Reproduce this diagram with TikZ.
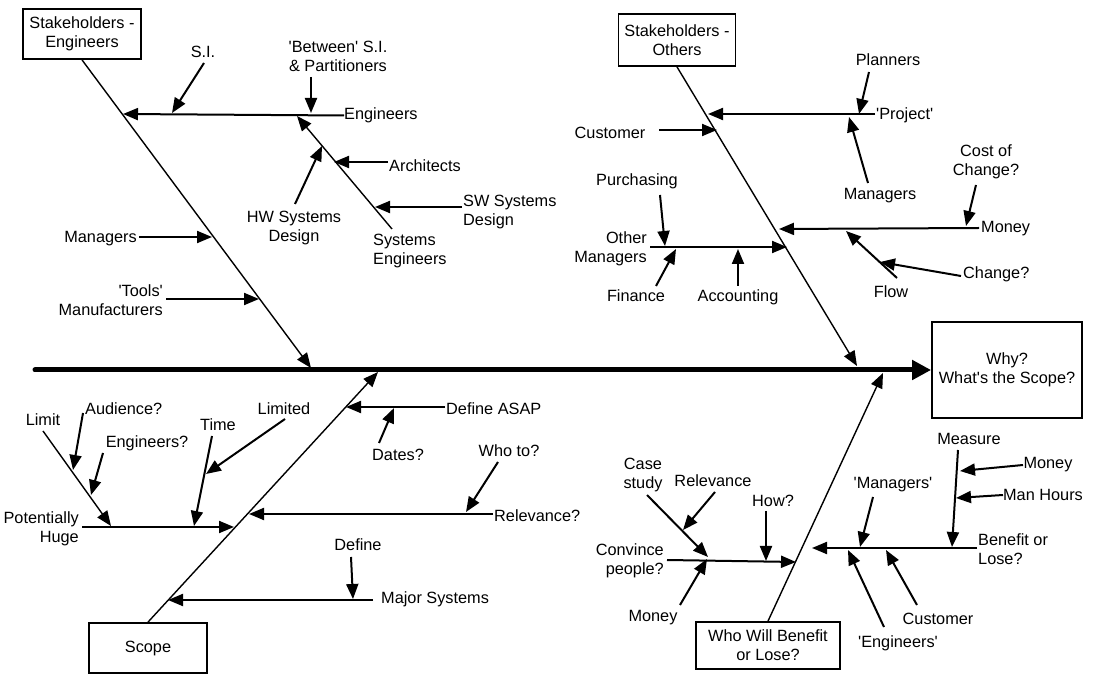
\documentclass[tikz,border=0pt]{standalone}
\usepackage{fontspec}
\setmainfont{Liberation Sans}
\usetikzlibrary{arrows.meta}
\newcommand{\sq}{\textquotesingle}
\begin{document}
\begin{tikzpicture}[x=1pt,y=-1pt,
  lbl/.style={font=\fontsize{16.3}{19}\selectfont, inner sep=0pt, align=center, yshift=-1.5pt},
  lbll/.style={lbl, align=left},
  lblr/.style={lbl, align=right},
  box/.style={draw, line width=1.8pt, font=\fontsize{16.3}{19}\selectfont, align=center, inner sep=0pt},
  bone/.style={line width=1.4pt, -{Triangle[length=15pt,width=12pt]}},
  arr/.style={line width=2pt, -{Triangle[length=15pt,width=12pt]}},
  spine/.style={line width=5pt, line cap=round, -{Triangle[length=19pt,width=19pt]}}]
\useasboundingbox[fill=white] (0,0) rectangle (1096,684);

% boxes
\node[box, minimum width=118pt, minimum height=50pt] (se) at (82,34) {Stakeholders -\\Engineers};
\node[box, minimum width=117pt, minimum height=52pt] (so) at (677,40) {Stakeholders -\\Others};
\node[box, minimum width=150pt, minimum height=96pt] (why) at (1007,370) {Why?\\What\sq s the Scope?};
\node[box, minimum width=118pt, minimum height=50pt] (scope) at (148,648) {Scope};
\node[box, minimum width=144pt, minimum height=47pt] (who) at (768,645.5) {Who Will Benefit\\or Lose?};

% spine
\coordinate (tail) at (35,370);
\draw[spine] (tail) -- (why.west);

% main bones
\coordinate (seE) at (311,368);
\coordinate (soE) at (857,366);
\coordinate (scE) at (378,372);
\coordinate (whE) at (883,373);
\draw[bone] (se.south) -- (seE);
\draw[bone] (so.south) -- (soE);
\draw[bone] (scope.north) -- (scE);
\draw[bone] (who.north) -- (whE);

% ---------- top-left ----------
\node[lbl] (si) at (203,50) {S.I.};
\node[lbl] (betw) at (338,55) {\sq Between\sq{} S.I.\\\& Partitioners};
\node[lbl, anchor=west] (eng) at (344,114) {Engineers};
\node[lbl, anchor=west] (arch) at (389,164) {Architects};
\node[lbll, anchor=west] (sw) at (463,210.5) {SW Systems\\Design};
\node[lbl] (hw) at (294,226.5) {HW Systems\\Design};
\node[lbll, anchor=west] (syseng) at (373,249.5) {Systems\\Engineers};
\node[lbl, anchor=east] (mgr) at (137,237) {Managers};
\node[lblr, anchor=east] (tools) at (163,299) {\sq Tools\sq\\Manufacturers};

\coordinate (engE) at (123,114);
\coordinate (siS) at (204,63);  \coordinate (siE) at (172,113);
\coordinate (bwS) at (311,77);  \coordinate (bwE) at (311,113);
\coordinate (syS) at (392,229); \coordinate (syE) at (297,116);
\coordinate (arS) at (388,162); \coordinate (arE) at (334,162);
\coordinate (swS) at (462,207); \coordinate (swE) at (375,207);
\coordinate (hwS) at (295,204); \coordinate (hwE) at (322,146);
\coordinate (mgS) at (139,237); \coordinate (mgE) at (212,237);
\coordinate (toS) at (166,299); \coordinate (toE) at (259,299);
\draw[arr] (eng.west) -- (engE);
\draw[arr] (siS) -- (siE);
\draw[arr] (bwS) -- (bwE);
\draw[bone] (syS) -- (syE);
\draw[arr] (arS) -- (arE);
\draw[arr] (swS) -- (swE);
\draw[arr] (hwS) -- (hwE);
\draw[arr] (mgS) -- (mgE);
\draw[arr] (toS) -- (toE);

% ---------- top-right ----------
\node[lbl] (cust) at (610,131) {Customer};
\node[lbl, anchor=west] (proj) at (876,114) {\sq Project\sq};
\node[lbl] (plan) at (888,58) {Planners};
\node[lbl] (mgr2) at (880,194) {Managers};
\node[lbl] (cost) at (986,160.5) {Cost of\\Change?};
\node[lbl, anchor=west] (money1) at (981,227) {Money};
\node[lbl] (flow) at (891,290) {Flow};
\node[lbl, anchor=west] (change) at (963,273) {Change?};
\node[lblr, anchor=east] (othm) at (647,247.5) {Other\\Managers};
\node[lbl] (purch) at (637,180) {Purchasing};
\node[lbl] (fin) at (636,294) {Finance};
\node[lbl] (acct) at (738,296) {Accounting};

\coordinate (cuS) at (659,130); \coordinate (cuE) at (717,130);
\coordinate (prS) at (875,114); \coordinate (prE) at (708,114);
\coordinate (plS) at (869,72);  \coordinate (plE) at (859,114);
\coordinate (m2S) at (868,183); \coordinate (m2E) at (849,117);
\coordinate (coS) at (976,185); \coordinate (coE) at (966,226);
\coordinate (moS) at (979,228); \coordinate (moE) at (779,229);
\coordinate (flS) at (897,278); \coordinate (flE) at (846,231);
\coordinate (chS) at (961,276); \coordinate (chE) at (880,262);
\coordinate (omS) at (650,247); \coordinate (omE) at (787,247);
\coordinate (puS) at (660,195); \coordinate (puE) at (665,246);
\coordinate (fiS) at (656,286); \coordinate (fiE) at (676,249);
\coordinate (acS) at (738,286); \coordinate (acE) at (738,249);
\draw[arr] (cuS) -- (cuE);
\draw[arr] (prS) -- (prE);
\draw[arr] (plS) -- (plE);
\draw[arr] (m2S) -- (m2E);
\draw[arr] (coS) -- (coE);
\draw[arr] (moS) -- (moE);
\draw[arr] (flS) -- (flE);
\draw[arr] (chS) -- (chE);
\draw[arr] (omS) -- (omE);
\draw[arr] (puS) -- (puE);
\draw[arr] (fiS) -- (fiE);
\draw[arr] (acS) -- (acE);

% ---------- bottom-left ----------
\node[lbl, anchor=west] (dasap) at (446,407) {Define ASAP};
\node[lbl] (dates) at (398,453) {Dates?};
\node[lbl, anchor=west] (relq) at (494,514) {Relevance?};
\node[lbl] (whoto) at (509,449) {Who to?};
\node[lblr, anchor=east] (pot) at (79,527.5) {Potentially\\Huge};
\node[lbl] (limit) at (43,418) {Limit};
\node[lbl, anchor=west] (aud) at (85,407) {Audience?};
\node[lbl] (engq) at (147,442) {Engineers?};
\node[lbl] (time) at (218,423) {Time};
\node[lbl] (limd) at (284,407) {Limited};
\node[lbl] (define) at (358,543) {Define};
\node[lbl, anchor=west] (majs) at (381,598) {Major Systems};

\coordinate (daS) at (445,407); \coordinate (daE) at (346,407);
\coordinate (dtS) at (379,443); \coordinate (dtE) at (394,408);
\coordinate (rqS) at (493,514); \coordinate (rqE) at (249,514);
\coordinate (wtS) at (498,462); \coordinate (wtE) at (466,512);
\coordinate (poS) at (82,527);  \coordinate (poE) at (234,527);
\coordinate (liS) at (43,431);  \coordinate (liE) at (111,526);
\coordinate (auS) at (83,413);  \coordinate (auE) at (73,470);
\coordinate (eqS) at (103,453); \coordinate (eqE) at (91,495);
\coordinate (tiS) at (212,436); \coordinate (tiE) at (194,526);
\coordinate (ldS) at (285,419); \coordinate (ldE) at (206,474);
\coordinate (deS) at (351,557); \coordinate (deE) at (353,599);
\coordinate (msS) at (373,600); \coordinate (msE) at (168,600);
\draw[arr] (daS) -- (daE);
\draw[arr] (dtS) -- (dtE);
\draw[arr] (rqS) -- (rqE);
\draw[arr] (wtS) -- (wtE);
\draw[arr] (poS) -- (poE);
\draw[bone] (liS) -- (liE);
\draw[arr] (auS) -- (auE);
\draw[arr] (eqS) -- (eqE);
\draw[arr] (tiS) -- (tiE);
\draw[arr] (ldS) -- (ldE);
\draw[arr] (deS) -- (deE);
\draw[arr] (msS) -- (msE);

% ---------- bottom-right ----------
\node[lbll, anchor=west] (ben) at (978,547.5) {Benefit or\\Lose?};
\node[lbl] (meas) at (969,437) {Measure};
\node[lbl] (money2) at (1048,463) {Money};
\node[lbl] (manh) at (1043,493) {Man Hours};
\node[lbl] (mgrq) at (893,483) {\sq Managers\sq};
\node[lbl] (engq2) at (898,642) {\sq Engineers\sq};
\node[lbl] (cust2) at (938,617) {Customer};
\node[lblr, anchor=east] (conv) at (664,559.5) {Convince\\people?};
\node[lbl] (case) at (643,474) {Case\\study};
\node[lbl] (relv) at (713,479) {Relevance};
\node[lbl] (how) at (773,499) {How?};
\node[lbl] (money3) at (653,616) {Money};

\coordinate (beS) at (977,548); \coordinate (beE) at (812,548);
\coordinate (meS) at (958,450); \coordinate (meE) at (952,547);
\coordinate (m3S) at (1023,465); \coordinate (m3E) at (960,471);
\coordinate (mhS) at (1003,495); \coordinate (mhE) at (956,498);
\coordinate (mqS) at (873,497); \coordinate (mqE) at (860,547);
\coordinate (e2S) at (884,627); \coordinate (e2E) at (848,550);
\coordinate (c2S) at (917,605); \coordinate (c2E) at (886,550);
\coordinate (cvS) at (667,560); \coordinate (cvE) at (796,562);
\coordinate (csS) at (647,495); \coordinate (csE) at (708,557);
\coordinate (rvS) at (715,492); \coordinate (rvE) at (683,530);
\coordinate (hoS) at (766,511); \coordinate (hoE) at (766,561);
\coordinate (m4S) at (680,605); \coordinate (m4E) at (707,559);
\draw[arr] (beS) -- (beE);
\draw[arr] (meS) -- (meE);
\draw[arr] (m3S) -- (m3E);
\draw[arr] (mhS) -- (mhE);
\draw[arr] (mqS) -- (mqE);
\draw[arr] (e2S) -- (e2E);
\draw[arr] (c2S) -- (c2E);
\draw[arr] (cvS) -- (cvE);
\draw[arr] (csS) -- (csE);
\draw[arr] (rvS) -- (rvE);
\draw[arr] (hoS) -- (hoE);
\draw[arr] (m4S) -- (m4E);
\end{tikzpicture}
\end{document}
